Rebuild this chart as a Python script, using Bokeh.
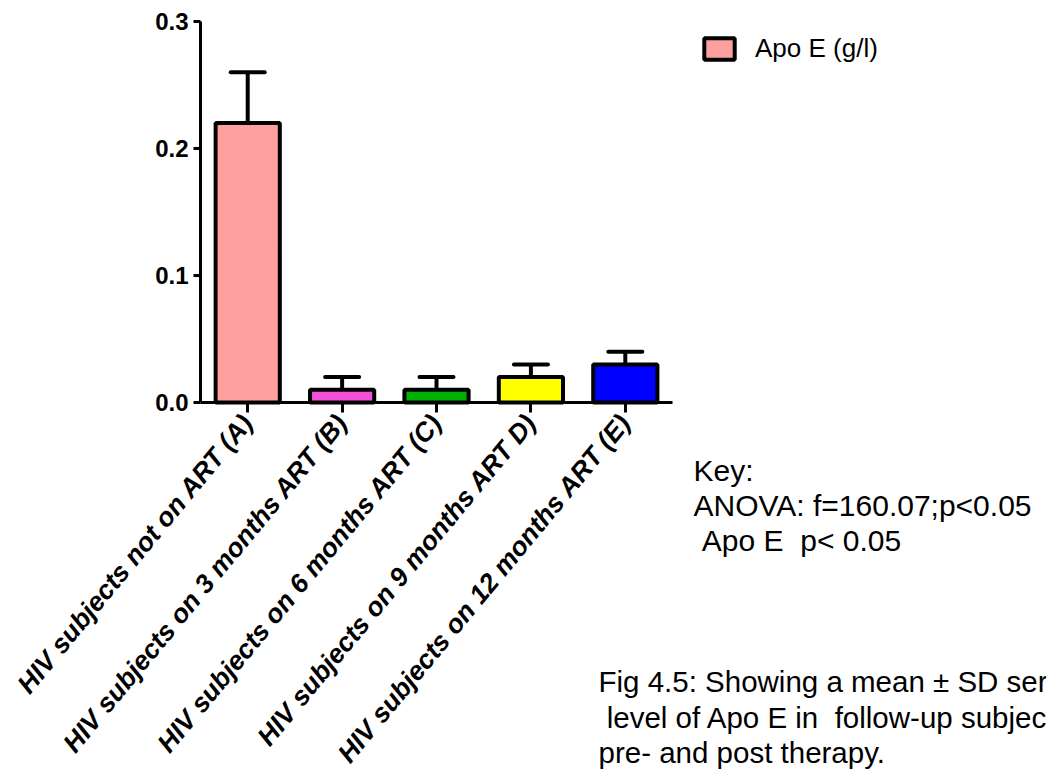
from bokeh.plotting import figure
from bokeh.models import (ColumnDataSource, Range1d, FixedTicker, LinearAxis,
                          NumeralTickFormatter, Whisker, TeeHead, Legend,
                          LegendItem, Label)
from bokeh.embed import file_html
from bokeh.resources import INLINE

# ---------------- data ----------------
categories = [
    "HIV subjects not on ART (A)",
    "HIV subjects on 3 months ART (B)",
    "HIV subjects on 6 months ART (C)",
    "HIV subjects on 9 months ART D)",
    "HIV subjects on 12 months ART (E)",
]
means = [0.22, 0.01, 0.01, 0.02, 0.03]
sds = [0.04, 0.01, 0.01, 0.01, 0.01]
bar_colors = ["#FFA0A0", "#F550DA", "#00B000", "#FFFF00", "#0000FF"]
y_ticks = [0.0, 0.1, 0.2, 0.3]
series_name = "Apo E (g/l)"
NB = "\u00a0"
key_lines = ["Key:", "ANOVA: f=160.07;p<0.05", NB + "Apo E" + NB + NB + "p< 0.05"]
caption_lines = [
    "Fig 4.5: Showing a mean \u00b1 SD serum",
    NB + "level of Apo E in" + NB + NB + "follow-up subjects",
    "pre- and post therapy.",
]

xpos = list(range(len(categories)))
upper = [m + s for m, s in zip(means, sds)]
src = ColumnDataSource(dict(x=xpos, mean=means, upper=upper, color=bar_colors))

FONT = "Liberation Sans"
W, H = 1046, 780

# frame covers the whole canvas; axes are pinned inside it
p = figure(width=W, height=H,
           x_range=Range1d(-2.619, 8.462),
           y_range=Range1d(-0.2976, 0.3165),
           output_backend="svg", toolbar_location=None,
           x_axis_type=None, y_axis_type=None,
           min_border=0)
p.background_fill_color = "white"
p.border_fill_color = "white"
p.outline_line_color = None
p.grid.visible = False

bars = p.vbar(x="x", top="mean", width=0.68, source=src,
              fill_color="color", line_color="black", line_width=4)

wh = Whisker(base="x", upper="upper", lower="mean", source=src,
             line_color="black", line_width=4,
             upper_head=TeeHead(size=34, line_color="black", line_width=4, line_cap="round"),
             lower_head=None)
p.add_layout(wh)

xaxis = LinearAxis(fixed_location=0, bounds=(-0.5, 4.5),
                   ticker=FixedTicker(ticks=xpos, minor_ticks=[]),
                   major_label_overrides={i: c for i, c in zip(xpos, categories)})
yaxis = LinearAxis(fixed_location=-0.5, bounds=(0, 0.3),
                   ticker=FixedTicker(ticks=y_ticks, minor_ticks=[]),
                   formatter=NumeralTickFormatter(format="0.0"))
p.add_layout(xaxis, "below")
p.add_layout(yaxis, "left")

for ax in (xaxis, yaxis):
    ax.axis_line_color = "black"
    ax.axis_line_width = 3
    ax.major_tick_line_color = "black"
    ax.major_tick_line_width = 3
    ax.major_tick_in = 0
    ax.minor_tick_line_color = None
    ax.major_label_text_color = "black"
    ax.major_label_text_font = FONT

xaxis.major_tick_out = 10
xaxis.major_label_orientation = 0.88
xaxis.major_label_text_font_style = "bold italic"
xaxis.major_label_text_font_size = "26.5px"
xaxis.major_label_standoff = 5

yaxis.major_tick_out = 7
yaxis.major_label_text_font_style = "bold"
yaxis.major_label_text_font_size = "24px"
yaxis.major_label_standoff = 5

legend = Legend(items=[LegendItem(label=series_name, renderers=[bars], index=0)],
                location=(700, 716), border_line_color=None,
                background_fill_alpha=0, padding=0, margin=0, spacing=0,
                glyph_width=38, glyph_height=27, label_standoff=17,
                label_text_font=FONT, label_text_font_size="26px",
                label_text_color="black")
p.add_layout(legend)

# key text (screen px from the canvas bottom-left)
key_y = [310, 275, 240]
for t, yy in zip(key_lines, key_y):
    p.add_layout(Label(x=693, y=yy, x_units="screen", y_units="screen", text=t,
                       text_font=FONT, text_font_size="30px",
                       text_baseline="alphabetic", text_color="black"))

cap_y = [99, 63, 28]
for t, yy in zip(caption_lines, cap_y):
    p.add_layout(Label(x=598, y=yy, x_units="screen", y_units="screen", text=t,
                       text_font=FONT, text_font_size="29.5px",
                       text_baseline="alphabetic", text_color="black"))

open("out.html", "w").write(file_html(p, INLINE))
